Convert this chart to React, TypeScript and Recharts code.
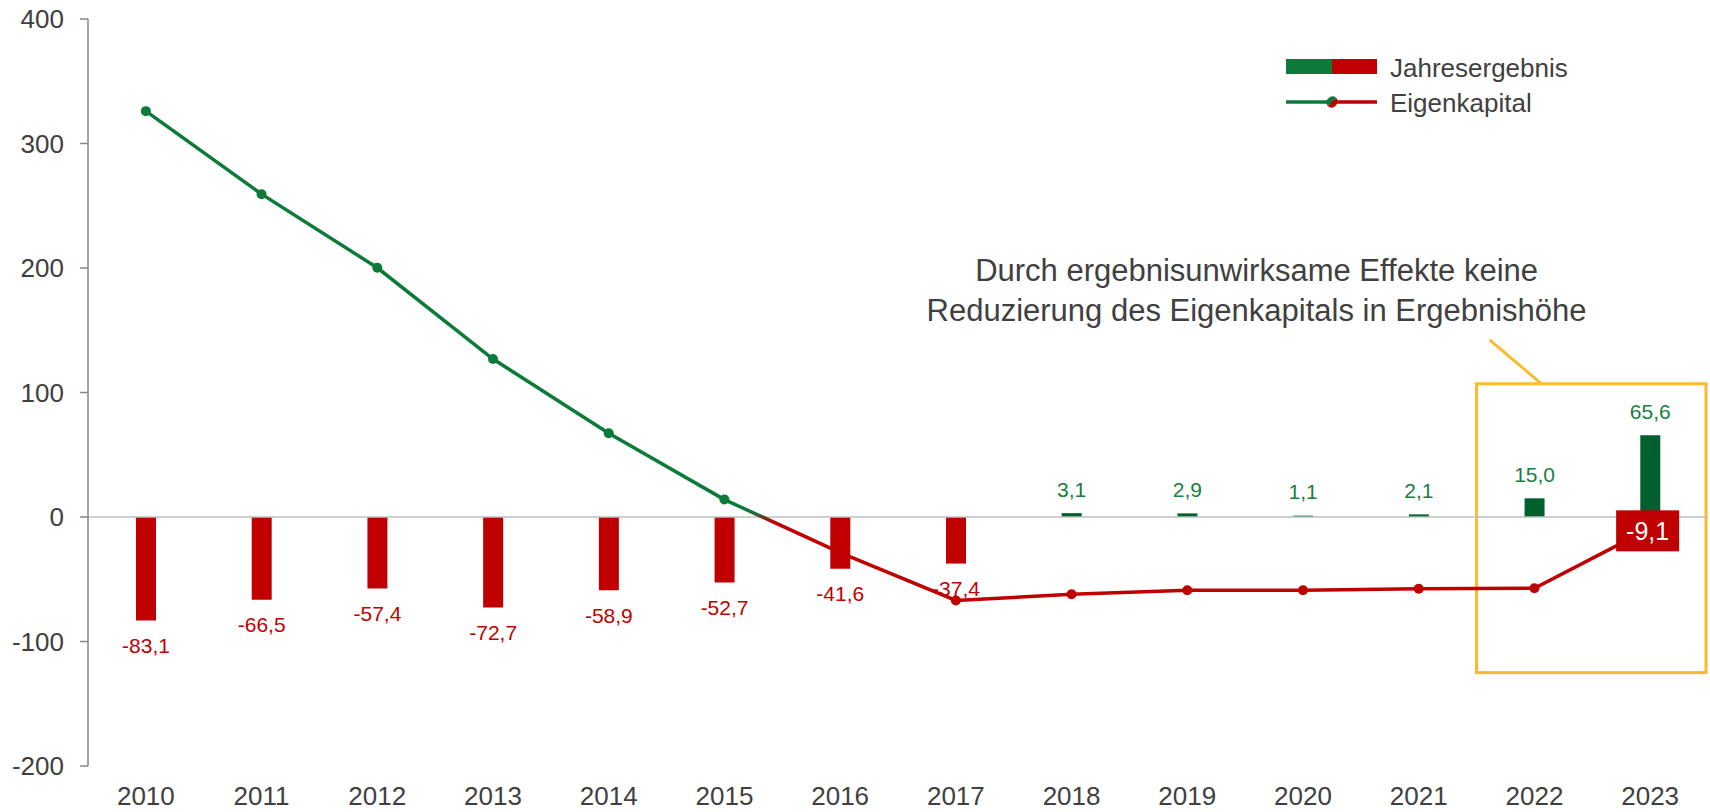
import React from "react";
import {
  ComposedChart,
  Bar,
  Line,
  XAxis,
  YAxis,
  Cell,
  LabelList,
  ReferenceLine,
  ReferenceArea,
} from "recharts";

const years = ["2010", "2011", "2012", "2013", "2014", "2015", "2016", "2017", "2018", "2019", "2020", "2021", "2022", "2023"];
const jahresergebnis = [-83.1, -66.5, -57.4, -72.7, -58.9, -52.7, -41.6, -37.4, 3.1, 2.9, 1.1, 2.1, 15.0, 65.6];
const eigenkapital = [326, 259.3, 200.2, 126.9, 67.3, 14.0, -28.6, -67.0, -62.1, -58.9, -58.9, -57.6, -57.3, -9.1];
const yTicks = [-200, -100, 0, 100, 200, 300, 400];
const noteLines = [
  "Durch ergebnisunwirksame Effekte keine",
  "Reduzierung des Eigenkapitals in Ergebnishöhe",
];

const RED = "#C00000";
const GREEN_LINE = "#0B7A3A";
const GREEN_BAR = "#00612E";
const GREEN_TEXT = "#17803F";
const GREY = "#404040";
const YELLOW = "#FBBA2C";
const FONT = "'Liberation Sans', Arial, sans-serif";

const data = years.map((year, i) => ({
  year,
  jahresergebnis: jahresergebnis[i],
  eigenkapital: eigenkapital[i],
}));

const ekMax = Math.max(...eigenkapital);
const ekMin = Math.min(...eigenkapital);
const zeroOffset = ekMax / (ekMax - ekMin);

const fmt = (v: number) => v.toFixed(1).replace(".", ",");

function BarLabel(props: any) {
  const { x, y, width, height, value } = props;
  if (value == null) return null;
  const top = Math.min(y, y + height);
  const bottom = Math.max(y, y + height);
  const cx = x + width / 2;
  const pos = value >= 0;
  return (
    <text
      x={cx}
      y={pos ? top - 16.5 : bottom + 32.5}
      textAnchor="middle"
      fontSize={21}
      fill={pos ? GREEN_TEXT : RED}
      fontFamily={FONT}
    >
      {fmt(value)}
    </text>
  );
}

function EkLabel(props: any) {
  const { x, y, value, index } = props;
  if (index !== years.length - 1) return null;
  return (
    <g>
      <rect x={x - 34} y={y - 18} width={63} height={41} fill={RED} />
      <text x={x - 2.5} y={y + 11.5} textAnchor="middle" fontSize={25} fill="#fff" fontFamily={FONT}>
        {fmt(value)}
      </text>
    </g>
  );
}

function renderDot(props: any) {
  const { cx, cy, value, index } = props;
  if (value == null || cx == null) return <g key={`d-${index}`} />;
  return <circle key={`d-${index}`} cx={cx} cy={cy} r={5} fill={value >= 0 ? GREEN_LINE : RED} />;
}

function CalloutBox(props: any) {
  const { x, y, width, height } = props;
  return (
    <g>
      <line x1={x + 13} y1={y - 44} x2={x + 65} y2={y} stroke={YELLOW} strokeWidth={3} />
      <rect x={x} y={y} width={width - 2} height={height} fill="none" stroke={YELLOW} strokeWidth={3} />
      {noteLines.map((t, i) => (
        <text
          key={t}
          x={x - 220}
          y={y - 103 + i * 40}
          textAnchor="middle"
          fontSize={31}
          fill={GREY}
          fontFamily={FONT}
        >
          {t}
        </text>
      ))}
    </g>
  );
}

function LegendBox() {
  return (
    <svg width={420} height={72} style={{ position: "absolute", left: 1286, top: 50 }}>
      <rect x={0} y={9} width={46} height={15} fill={GREEN_LINE} />
      <rect x={46} y={9} width={45} height={15} fill={RED} />
      <text x={104} y={26.5} fontSize={26} fill={GREY} fontFamily={FONT}>
        Jahresergebnis
      </text>
      <line x1={0} y1={52} x2={46} y2={52} stroke={GREEN_LINE} strokeWidth={3.5} />
      <line x1={46} y1={52} x2={91} y2={52} stroke={RED} strokeWidth={3.5} />
      <path d="M 41.8 56.2 A 6 6 0 0 1 50.2 47.8 Z" fill={GREEN_LINE} />
      <path d="M 41.8 56.2 A 6 6 0 0 0 50.2 47.8 Z" fill={RED} />
      <text x={104} y={61.5} fontSize={26} fill={GREY} fontFamily={FONT}>
        Eigenkapital
      </text>
    </svg>
  );
}

export default function App() {
  return (
    <div style={{ position: "absolute", left: 0, top: 0, width: 1710, height: 812, fontFamily: FONT, background: "#fff" }}>
      <ComposedChart width={1710} height={812} data={data} margin={{ top: 19, right: 2, bottom: 0, left: 0 }}>
        <defs>
          <linearGradient id="ekGrad" x1="0" y1="0" x2="0" y2="1">
            <stop offset={0} stopColor={GREEN_LINE} />
            <stop offset={zeroOffset - 0.01} stopColor={GREEN_LINE} />
            <stop offset={zeroOffset + 0.01} stopColor={RED} />
            <stop offset={1} stopColor={RED} />
          </linearGradient>
        </defs>
        <XAxis
          dataKey="year"
          axisLine={false}
          tickLine={false}
          height={46}
          interval={0}
          tickMargin={15}
          tick={{ fontSize: 26, fill: GREY }}
        />
        <YAxis
          width={88}
          domain={[-200, 400]}
          ticks={yTicks}
          tickSize={8}
          tickMargin={16}
          axisLine={{ stroke: "#868686", strokeWidth: 1.5 }}
          tickLine={{ stroke: "#868686", strokeWidth: 1.5 }}
          tick={{ fontSize: 26, fill: GREY }}
        />
        <ReferenceLine y={0} stroke="#BFBFBF" strokeWidth={1.5} />
        <ReferenceArea x1="2022" x2="2023" y1={-125} y2={107} shape={CalloutBox} />
        <Bar dataKey="jahresergebnis" barSize={20} isAnimationActive={false}>
          {data.map((d) => (
            <Cell key={d.year} fill={d.jahresergebnis >= 0 ? GREEN_BAR : RED} />
          ))}
          <LabelList dataKey="jahresergebnis" content={BarLabel} />
        </Bar>
        <Line
          dataKey="eigenkapital"
          type="linear"
          stroke="url(#ekGrad)"
          strokeWidth={3.5}
          dot={renderDot}
          activeDot={false}
          isAnimationActive={false}
        >
          <LabelList dataKey="eigenkapital" content={EkLabel} />
        </Line>
      </ComposedChart>
      <LegendBox />
    </div>
  );
}
